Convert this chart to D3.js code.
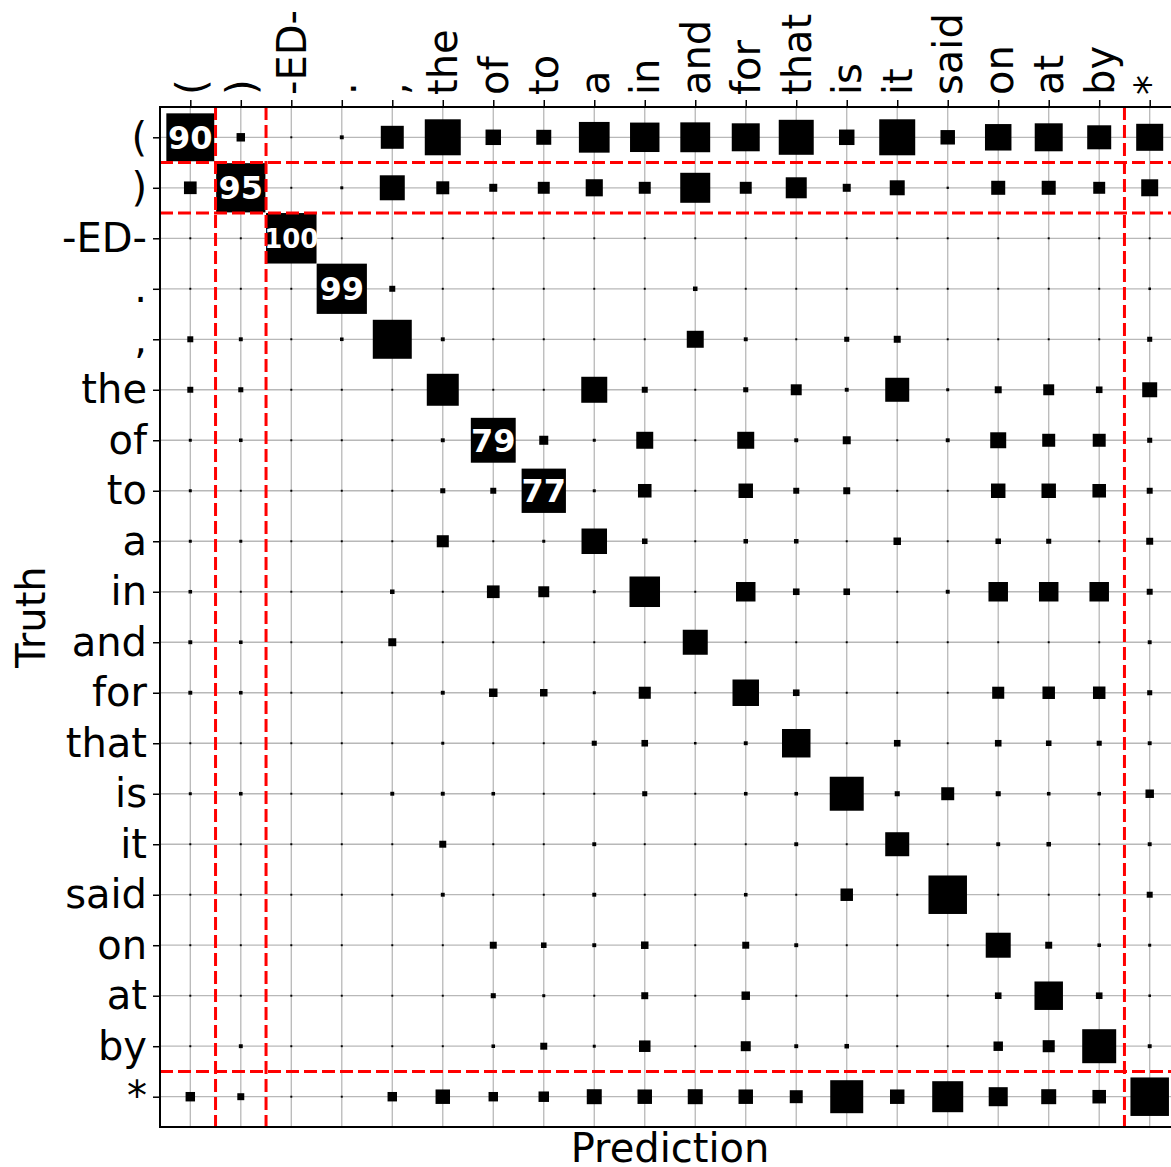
<!DOCTYPE html>
<html>
<head>
<meta charset="utf-8">
<script src="https://cdn.jsdelivr.net/npm/d3@7"></script>
<style>
  body { margin: 0; background: #fff; overflow: hidden; }
  svg text { font-family: 'DejaVu Sans', sans-serif; }
</style>
</head>
<body>
<div class="canvas"></div>
<script>
// categories (same order for truth rows and prediction columns)
const labels = ['(', ')', '-ED-', '.', ',', 'the', 'of', 'to', 'a', 'in',
  'and', 'for', 'that', 'is', 'it', 'said', 'on', 'at', 'by', '*'];

// square area per cell (percent of a full cell), one row per truth label
const scores = [
  [90, 2.8, 0.15, 0.6, 20.7, 50.8, 9.4, 8.8, 37, 34, 35, 30.7, 48, 9.4, 50.8, 8.2, 27.5, 30.7, 22.6, 28.6],
  [6.3, 95, 0.15, 0.35, 24.5, 6.6, 2.5, 5.6, 11.5, 5.6, 35.3, 5.6, 17.3, 2.5, 8.8, 0.2, 7.7, 7.7, 5.6, 11.3],
  [0.15, 0.15, 100, 0.15, 0.15, 0.15, 0.15, 0.15, 0.15, 0.15, 0.15, 0.15, 0.15, 0.15, 0.15, 0.15, 0.15, 0.15, 0.15, 0.15],
  [0.15, 0.15, 0.15, 99, 1.4, 0.15, 0.15, 0.15, 0.15, 0.15, 0.8, 0.15, 0.15, 0.15, 0.15, 0.15, 0.15, 0.15, 0.15, 0.25],
  [1.4, 0.6, 0.15, 0.5, 59.6, 0.6, 0.15, 0.15, 0.15, 0.15, 11.3, 0.6, 0.15, 1.0, 1.9, 0.15, 0.15, 0.15, 0.15, 1.0],
  [1.4, 1.0, 0.15, 0.15, 0.15, 40.1, 0.15, 0.15, 26.5, 1.4, 0.15, 1.0, 4.7, 0.6, 22.6, 0.35, 1.9, 4.7, 1.7, 8.8],
  [0.35, 0.5, 0.15, 0.15, 0.15, 0.6, 79, 3.2, 0.35, 11.3, 0.15, 11.3, 0.6, 2.5, 0.15, 0.6, 10, 6.6, 6.6, 1.0],
  [0.35, 0.15, 0.15, 0.15, 0.15, 1.0, 1.4, 77, 0.35, 7.2, 0.15, 8.2, 1.4, 1.9, 0.15, 0.15, 8.2, 8.2, 7.2, 1.4],
  [0.35, 0.35, 0.15, 0.15, 0.15, 5.7, 0.15, 0.35, 25.5, 1.2, 0.15, 0.8, 0.8, 0.15, 2.2, 0.15, 1.2, 1.0, 0.15, 1.9],
  [0.5, 0.15, 0.15, 0.15, 0.8, 0.15, 6.3, 4.7, 0.35, 36.5, 0.15, 14.9, 1.7, 1.7, 0.15, 0.6, 14.9, 14.9, 14.9, 1.4],
  [0.6, 0.5, 0.15, 0.15, 2.5, 0.15, 0.15, 0.15, 0.15, 0.15, 24.5, 0.15, 0.15, 0.15, 0.15, 0.15, 0.15, 0.15, 0.15, 0.6],
  [0.6, 0.5, 0.15, 0.15, 0.15, 0.6, 2.8, 2.2, 0.35, 5.7, 0.15, 27.5, 1.7, 0.15, 0.15, 0.15, 5.7, 6.1, 6.1, 1.0],
  [0.15, 0.15, 0.15, 0.15, 0.15, 0.35, 0.15, 0.15, 1.0, 1.7, 0.25, 0.6, 31.8, 0.15, 1.7, 0.15, 1.7, 1.2, 1.0, 0.6],
  [0.35, 0.5, 0.15, 0.15, 0.6, 0.6, 0.5, 0.15, 0.15, 1.0, 0.15, 0.5, 0.5, 45.3, 1.0, 6.6, 1.0, 0.5, 0.5, 2.8],
  [0.15, 0.15, 0.15, 0.15, 0.15, 1.9, 0.15, 0.15, 0.6, 0.15, 0.15, 0.15, 0.6, 0.15, 22.6, 0.15, 0.6, 0.8, 0.15, 0.6],
  [0.15, 0.15, 0.15, 0.15, 0.15, 0.6, 0.15, 0.15, 0.6, 0.15, 0.15, 0.5, 0.15, 6.1, 0.15, 58.1, 0.15, 0.15, 0.15, 1.4],
  [0.15, 0.15, 0.15, 0.15, 0.15, 0.15, 1.9, 1.2, 0.6, 2.2, 0.15, 1.9, 0.6, 0.15, 0.15, 0.15, 24.5, 1.9, 0.5, 0.35],
  [0.15, 0.15, 0.15, 0.15, 0.15, 0.15, 1.0, 0.35, 0.15, 1.9, 0.15, 2.8, 0.15, 0.15, 0.15, 0.15, 1.7, 31.8, 1.7, 0.25],
  [0.15, 0.6, 0.15, 0.15, 0.15, 0.15, 0.5, 1.9, 0.35, 5.2, 0.15, 3.9, 0.6, 0.8, 0.15, 0.15, 3.5, 5.7, 45.3, 0.6],
  [3.5, 1.9, 0.15, 0.15, 3.5, 8.2, 3.5, 4.3, 8.8, 8.2, 8.8, 8.2, 6.6, 42.7, 8.2, 37.7, 14.2, 8.8, 7.2, 58.1]
];

// red dashed separators sit before these category indices
const groupBreaks = [1, 2, 19];
// cells at or above this value get their number written in
const labelMin = 70;

// set up dimensions
const width = 1171;
const height = 1167;
const plot = { left: 160, top: 107, right: 1180, bottom: 1127 };

const svg = d3
  .select('.canvas')
  .append('svg')
  .attr('width', width)
  .attr('height', height);

// point scales for columns (prediction) and rows (truth)
const x = d3.scalePoint().domain(labels).range([plot.left, plot.right]).padding(0.6);
const y = d3.scalePoint().domain(labels).range([plot.top, plot.bottom]).padding(0.6);
// square side grows with sqrt of the value
const side = d3.scaleSqrt().domain([0, 100]).range([0, x.step()]);

// grid lines
const grid = svg.append('g').attr('stroke', '#b8b8b8').attr('stroke-width', 1.3);
grid.selectAll('.gx')
  .data(labels)
  .enter()
  .append('line')
  .attr('x1', d => x(d)).attr('x2', d => x(d))
  .attr('y1', plot.top).attr('y2', plot.bottom);
grid.selectAll('.gy')
  .data(labels)
  .enter()
  .append('line')
  .attr('y1', d => y(d)).attr('y2', d => y(d))
  .attr('x1', plot.left).attr('x2', plot.right);

// flatten matrix into cells
const cells = [];
scores.forEach((row, i) => {
  row.forEach((v, j) => {
    cells.push({ truth: labels[i], pred: labels[j], value: v });
  });
});

svg.append('g')
  .selectAll('rect')
  .data(cells)
  .enter()
  .append('rect')
  .attr('x', d => x(d.pred) - side(d.value) / 2)
  .attr('y', d => y(d.truth) - side(d.value) / 2)
  .attr('width', d => side(d.value))
  .attr('height', d => side(d.value))
  .attr('fill', '#000');

// numbers on the big diagonal cells
svg.append('g')
  .selectAll('text')
  .data(cells.filter(d => d.value >= labelMin))
  .enter()
  .append('text')
  .attr('x', d => x(d.pred))
  .attr('y', d => y(d.truth))
  .attr('dy', '0.36em')
  .attr('text-anchor', 'middle')
  .attr('fill', '#fff')
  .attr('font-weight', 'bold')
  .attr('font-size', d => (String(d.value).length > 2 ? 26 : 32))
  .text(d => d.value);

// red dashed group separators
const sepPos = (scale, b) => (scale(labels[b - 1]) + scale(labels[b])) / 2;
const seps = svg.append('g')
  .attr('stroke', '#ff0000')
  .attr('stroke-width', 3)
  .attr('stroke-dasharray', '13,5');
seps.selectAll('.sv')
  .data(groupBreaks)
  .enter()
  .append('line')
  .attr('x1', b => sepPos(x, b)).attr('x2', b => sepPos(x, b))
  .attr('y1', plot.top).attr('y2', plot.bottom);
seps.selectAll('.sh')
  .data(groupBreaks)
  .enter()
  .append('line')
  .attr('y1', b => sepPos(y, b)).attr('y2', b => sepPos(y, b))
  .attr('x1', plot.left).attr('x2', plot.right);

// frame
svg.append('rect')
  .attr('x', plot.left)
  .attr('y', plot.top)
  .attr('width', plot.right - plot.left)
  .attr('height', plot.bottom - plot.top)
  .attr('fill', 'none')
  .attr('stroke', '#000')
  .attr('stroke-width', 2);

// axes
const xAxisGroup = svg.append('g').attr('transform', `translate(0, ${plot.top})`);
const yAxisGroup = svg.append('g').attr('transform', `translate(${plot.left}, 0)`);

xAxisGroup.call(d3.axisTop(x).tickSize(7).tickPadding(5));
yAxisGroup.call(d3.axisLeft(y).tickSize(7).tickPadding(6));

[xAxisGroup, yAxisGroup].forEach(g => {
  g.select('.domain').remove();
  g.selectAll('.tick line').attr('stroke', '#000').attr('stroke-width', 1.5);
  g.selectAll('.tick text')
    .attr('fill', '#000')
    .attr('font-size', 40)
    .attr('font-family', "'DejaVu Sans', sans-serif");
});

// rotate top labels
xAxisGroup
  .selectAll('.tick text')
  .attr('transform', 'rotate(-90)')
  .attr('text-anchor', 'start')
  .attr('x', 12)
  .attr('y', 0)
  .attr('dy', '0.35em');

// axis titles
svg.append('text')
  .attr('x', (plot.left + plot.right) / 2)
  .attr('y', 1162)
  .attr('text-anchor', 'middle')
  .attr('font-size', 40)
  .text('Prediction');

svg.append('text')
  .attr('transform', `translate(45, ${(plot.top + plot.bottom) / 2}) rotate(-90)`)
  .attr('text-anchor', 'middle')
  .attr('font-size', 40)
  .text('Truth');
</script>
</body>
</html>
